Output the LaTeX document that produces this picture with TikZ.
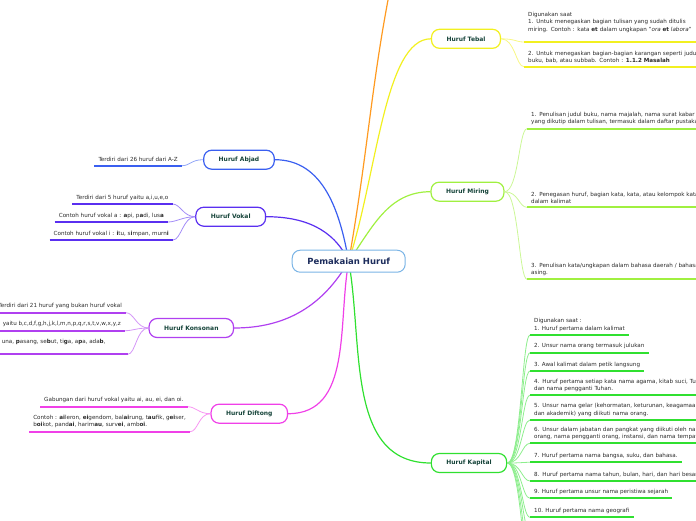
\documentclass[tikz,border=0pt]{standalone}
\usepackage{fontspec}
\setmainfont{DejaVu Sans}
\usetikzlibrary{backgrounds}

\definecolor{rootline}{HTML}{7AB4E6}
\definecolor{roottext}{HTML}{1C2C5C}
\definecolor{topictext}{HTML}{16443A}
\definecolor{leaftext}{HTML}{2A2A2A}
\definecolor{orangecol}{HTML}{FF9A20}
\definecolor{tebcol}{HTML}{F2F020}
\definecolor{mircol}{HTML}{A0F040}
\definecolor{kapcol}{HTML}{30E030}
\definecolor{abjcol}{HTML}{3A5FF0}
\definecolor{vokcol}{HTML}{5A2FF0}
\definecolor{koncol}{HTML}{B040F0}
\definecolor{difcol}{HTML}{F040E8}

\begin{document}
\begin{tikzpicture}[
  x=1pt, y=1pt,
  topic/.style={draw=#1, line width=1.2pt, fill=white, rounded corners=8pt,
                minimum height=19pt, inner xsep=15pt,
                font=\fontsize{6}{7}\selectfont\bfseries, text=topictext},
  leaf/.style={inner xsep=4pt, inner ysep=3.5pt, align=left,
               font=\fontsize{5.6}{7.3}\selectfont, text=leaftext},
  wide/.style={text width=200pt},
  branch/.style={line width=1.2pt, draw=#1},
  twig/.style={line width=0.8pt, draw=#1!55},
  uline/.style={line width=1.7pt, draw=#1}
]
\useasboundingbox (0,0) rectangle (696,-520);

% ---- centre ----
\node[draw=rootline, line width=1pt, fill=white, rounded corners=8pt,
      minimum width=113pt, minimum height=22pt,
      font=\fontsize{8.5}{10}\selectfont\bfseries, text=roottext]
      (root) at (348.7,-261.2) {Pemakaian Huruf};

% ---- topics ----
\node[topic=tebcol] (tebal)    at (466,-38.8)   {Huruf Tebal};
\node[topic=mircol] (miring)   at (467.5,-191.7) {Huruf Miring};
\node[topic=kapcol] (kapital)  at (469,-463)    {Huruf Kapital};
\node[topic=abjcol] (abjad)    at (239,-159.7)  {Huruf Abjad};
\node[topic=vokcol] (vokal)    at (230.7,-216.7) {Huruf Vokal};
\node[topic=koncol] (konsonan) at (191.3,-328)  {Huruf Konsonan};
\node[topic=difcol] (diftong)  at (249.3,-413.7) {Huruf Diftong};
\coordinate (orangeend) at (396,40);

% ---- left leaves ----
\node[leaf, anchor=south east] (abj1) at (182,-165.7) {Terdiri dari 26 huruf dari A-Z};

\node[leaf, anchor=south east] (vok1) at (172.5,-204) {Terdiri dari 5 huruf yaitu a,i,u,e,o};
\node[leaf, anchor=south east] (vok2) at (168,-222) {Contoh huruf vokal a : \textbf{a}pi, p\textbf{a}di, lus\textbf{a}};
\node[leaf, anchor=south east] (vok3) at (173,-240) {Contoh huruf vokal i : \textbf{i}tu, s\textbf{i}mpan, murn\textbf{i}};

\node[leaf, anchor=south east] (kon1) at (126,-312.7) {Terdiri dari 21 huruf yang bukan huruf vokal};
\node[leaf, anchor=south east] (kon2) at (125,-330.7) {yaitu b,c,d,f,g,h,j,k,l,m,n,p,q,r,s,t,v,w,x,y,z};
\node[leaf, anchor=south east] (kon3) at (127.7,-354.3) {una, \textbf{p}asang, se\textbf{b}ut, ti\textbf{g}a, a\textbf{p}a, ada\textbf{b},\hspace*{18pt}\\\mbox{}};

\node[leaf, anchor=south east] (dif1) at (187.7,-406.7) {Gabungan dari huruf vokal yaitu ai, au, ei, dan oi.};
\node[leaf, anchor=south east] (dif2) at (190,-431.7) {Contoh : \textbf{ai}leron, \textbf{ei}gendom, bal\textbf{ai}rung, t\textbf{au}fik, g\textbf{ei}ser,\\b\textbf{oi}kot, pand\textbf{ai}, harim\textbf{au}, surv\textbf{ei}, amb\textbf{oi}.};

% ---- right leaves ----
\node[leaf, wide, anchor=south west] (teb1) at (524,-42) {Digunakan saat\\1. Untuk menegaskan bagian tulisan yang sudah ditulis\\miring. Contoh : kata \textbf{et} dalam ungkapan "\textit{ora} \textbf{et} \textit{labora}"\\\mbox{}};
\node[leaf, wide, anchor=south west] (teb2) at (524,-66.7) {2. Untuk menegaskan bagian-bagian karangan seperti judul\\buku, bab, atau subbab. Contoh : \textbf{1.1.2 Masalah}};

\node[leaf, wide, anchor=south west] (mir1) at (527,-128.7) {1. Penulisan judul buku, nama majalah, nama surat kabar\\yang dikutip dalam tulisan, termasuk dalam daftar pustaka};
\node[leaf, wide, anchor=south west] (mir2) at (527,-207.3) {2. Penegasan huruf, bagian kata, kata, atau kelompok kata\\dalam kalimat};
\node[leaf, wide, anchor=south west] (mir3) at (527,-279.3) {3. Penulisan kata/ungkapan dalam bahasa daerah / bahasa\\asing.};

\node[leaf, anchor=south west] (kap1) at (530,-335) {Digunakan saat :\\1. Huruf pertama dalam kalimat};
\node[leaf, anchor=south west] (kap2) at (530,-352.7) {2. Unsur nama orang termasuk julukan};
\node[leaf, anchor=south west] (kap3) at (530,-371) {3. Awal kalimat dalam petik langsung};
\node[leaf, wide, anchor=south west] (kap4) at (530,-395.3) {4. Huruf pertama setiap kata nama agama, kitab suci, Tuhan,\\dan nama pengganti Tuhan.};
\node[leaf, wide, anchor=south west] (kap5) at (530,-420) {5. Unsur nama gelar (kehormatan, keturunan, keagamaan,\\dan akademik) yang diikuti nama orang.};
\node[leaf, wide, anchor=south west] (kap6) at (530,-443.3) {6. Unsur dalam jabatan dan pangkat yang diikuti oleh nama\\orang, nama pengganti orang, instansi, dan nama tempat.};
\node[leaf, anchor=south west] (kap7) at (530,-462.3) {7. Huruf pertama nama bangsa, suku, dan bahasa.};
\node[leaf, wide, anchor=south west] (kap8) at (530,-481) {8. Huruf pertama nama tahun, bulan, hari, dan hari besar};
\node[leaf, anchor=south west] (kap9) at (530,-498.3) {9. Huruf pertama unsur nama peristiwa sejarah};
\node[leaf, anchor=south west] (kap10) at (530,-517.3) {10. Huruf pertama nama geografi};
\coordinate (kapmore1) at (531,-536);
\coordinate (kapmore2) at (531,-556);
\coordinate (kapmore3) at (531,-576);

% ---- main branches (behind the centre box) ----
\begin{scope}[on background layer]
\draw[branch=orangecol] (root.center) to[out=80,in=-102] (orangeend);
\draw[branch=tebcol]    (root.center) to[out=72,in=180,in looseness=0.5] (tebal.west);
\draw[branch=mircol]    (root.center) to[out=55,in=180] (miring.west);
\draw[branch=kapcol]    (root.center) to[out=-80,in=180] (kapital.west);
\draw[branch=abjcol]    (root.center) to[out=100,in=0] (abjad.east);
\draw[branch=vokcol]    (root.center) to[out=115,in=0] (vokal.east);
\draw[branch=koncol]    (root.center) to[out=-120,in=0] (konsonan.east);
\draw[branch=difcol]    (root.center) to[out=-100,in=0] (diftong.east);
\end{scope}

% ---- left twigs ----
\draw[twig=abjcol] (abjad.west) .. controls +(-12,0) and +(8,0) .. (abj1.south east);
\draw[twig=vokcol] (vokal.west) .. controls +(-12,0) and +(8,0) .. (vok1.south east);
\draw[twig=vokcol] (vokal.west) .. controls +(-12,0) and +(8,0) .. (vok2.south east);
\draw[twig=vokcol] (vokal.west) .. controls +(-12,0) and +(8,0) .. (vok3.south east);
\draw[twig=koncol] (konsonan.west) .. controls +(-12,0) and +(8,0) .. (kon1.south east);
\draw[twig=koncol] (konsonan.west) .. controls +(-12,0) and +(8,0) .. (kon2.south east);
\draw[twig=koncol] (konsonan.west) .. controls +(-12,0) and +(8,0) .. (kon3.south east);
\draw[twig=difcol] (diftong.west) .. controls +(-12,0) and +(8,0) .. (dif1.south east);
\draw[twig=difcol] (diftong.west) .. controls +(-12,0) and +(8,0) .. (dif2.south east);

% ---- right twigs ----
\draw[twig=tebcol] (tebal.east) .. controls +(14,0) and +(-8,0) .. (teb1.south west);
\draw[twig=tebcol] (tebal.east) .. controls +(14,0) and +(-8,0) .. (teb2.south west);
\draw[twig=mircol] (miring.east) .. controls +(14,0) and +(-8,0) .. (mir1.south west);
\draw[twig=mircol] (miring.east) .. controls +(14,0) and +(-8,0) .. (mir2.south west);
\draw[twig=mircol] (miring.east) .. controls +(14,0) and +(-8,0) .. (mir3.south west);
\draw[twig=kapcol] (kapital.east) .. controls +(14,0) and +(-8,0) .. (kap1.south west);
\draw[twig=kapcol] (kapital.east) .. controls +(14,0) and +(-8,0) .. (kap2.south west);
\draw[twig=kapcol] (kapital.east) .. controls +(14,0) and +(-8,0) .. (kap3.south west);
\draw[twig=kapcol] (kapital.east) .. controls +(14,0) and +(-8,0) .. (kap4.south west);
\draw[twig=kapcol] (kapital.east) .. controls +(14,0) and +(-8,0) .. (kap5.south west);
\draw[twig=kapcol] (kapital.east) .. controls +(14,0) and +(-8,0) .. (kap6.south west);
\draw[twig=kapcol] (kapital.east) .. controls +(14,0) and +(-8,0) .. (kap7.south west);
\draw[twig=kapcol] (kapital.east) .. controls +(14,0) and +(-8,0) .. (kap8.south west);
\draw[twig=kapcol] (kapital.east) .. controls +(14,0) and +(-8,0) .. (kap9.south west);
\draw[twig=kapcol] (kapital.east) .. controls +(14,0) and +(-8,0) .. (kap10.south west);
\draw[twig=kapcol] (kapital.east) .. controls +(14,0) and +(-8,0) .. (kapmore1);
\draw[twig=kapcol] (kapital.east) .. controls +(14,0) and +(-8,0) .. (kapmore2);
\draw[twig=kapcol] (kapital.east) .. controls +(14,0) and +(-8,0) .. (kapmore3);

% ---- underlines ----
\draw[uline=abjcol] (abj1.south west) -- (abj1.south east);
\draw[uline=vokcol] (vok1.south west) -- (vok1.south east);
\draw[uline=vokcol] (vok2.south west) -- (vok2.south east);
\draw[uline=vokcol] (vok3.south west) -- (vok3.south east);
\draw[uline=koncol] (kon1.south west) -- (kon1.south east);
\draw[uline=koncol] (kon2.south west) -- (kon2.south east);
\draw[uline=koncol] (kon3.south west) -- (kon3.south east);
\draw[uline=difcol] (dif1.south west) -- (dif1.south east);
\draw[uline=difcol] (dif2.south west) -- (dif2.south east);
\draw[uline=tebcol] (teb1.south west) -- (teb1.south east);
\draw[uline=tebcol] (teb2.south west) -- (teb2.south east);
\draw[uline=mircol] (mir1.south west) -- (mir1.south east);
\draw[uline=mircol] (mir2.south west) -- (mir2.south east);
\draw[uline=mircol] (mir3.south west) -- (mir3.south east);
\draw[uline=kapcol] (kap1.south west) -- (kap1.south east);
\draw[uline=kapcol] (kap2.south west) -- (kap2.south east);
\draw[uline=kapcol] (kap3.south west) -- (kap3.south east);
\draw[uline=kapcol] (kap4.south west) -- (kap4.south east);
\draw[uline=kapcol] (kap5.south west) -- (kap5.south east);
\draw[uline=kapcol] (kap6.south west) -- (kap6.south east);
\draw[uline=kapcol] (kap7.south west) -- (kap7.south east);
\draw[uline=kapcol] (kap8.south west) -- (kap8.south east);
\draw[uline=kapcol] (kap9.south west) -- (kap9.south east);
\draw[uline=kapcol] (kap10.south west) -- (kap10.south east);

\end{tikzpicture}
\end{document}
